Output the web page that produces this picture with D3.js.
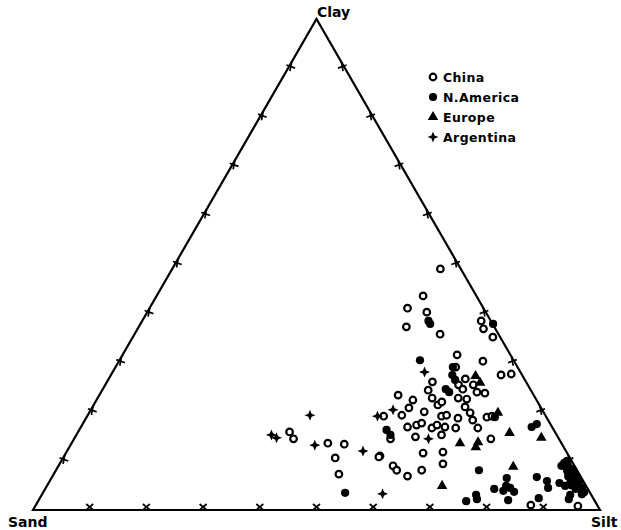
<!DOCTYPE html>
<html>
<head>
<meta charset="utf-8">
<script src="https://cdn.jsdelivr.net/npm/d3@7"></script>
<style>
  body { margin: 0; background: #fff; }
  svg { display: block; }
  text { font-family: "DejaVu Sans", sans-serif; font-weight: bold; fill: #000; }
</style>
</head>
<body>
<svg id="chart" width="621" height="530"></svg>
<script>
// each point: [clay %, silt %]  (sand = 100 - clay - silt)
const china = [
  [49.1, 47.3], [43.6, 47.0], [41.1, 45.5], [40.3, 49.3], [37.3, 47.2],
  [35.8, 53.9], [38.5, 59.8], [36.9, 61.0], [35.2, 63.5], [31.6, 59.0],
  [30.3, 64.2], [27.5, 68.8], [27.7, 70.5], [29.1, 60.0], [26.7, 62.9],
  [26.1, 57.4], [24.4, 57.5], [25.5, 62.3], [24.6, 63.5], [25.5, 64.9],
  [24.0, 66.3], [23.8, 67.8], [23.4, 52.7], [22.4, 55.8], [20.8, 55.9],
  [22.8, 59.0], [21.4, 60.7], [22.0, 61.1], [22.8, 63.6], [22.6, 65.2],
  [21.0, 65.7], [19.3, 55.4], [19.1, 52.3], [20.0, 59.0], [19.1, 62.5],
  [19.3, 63.3], [18.7, 65.6], [19.8, 67.2], [18.3, 68.4], [16.7, 70.1],
  [18.9, 70.6], [19.1, 71.4], [16.9, 57.6], [17.3, 59.0], [17.7, 59.7],
  [16.7, 62.0], [17.3, 62.6], [16.9, 64.2], [16.7, 66.2], [14.5, 55.8],
  [14.9, 60.0], [15.3, 64.4], [14.5, 73.5], [11.8, 66.4], [9.4, 67.6],
  [11.6, 63.0], [8.1, 64.5], [6.9, 62.6], [9.0, 59.0], [8.1, 60.1],
  [11.0, 55.7], [15.9, 37.3], [14.5, 38.7], [13.6, 45.2], [13.4, 48.2],
  [10.6, 48.0], [7.3, 50.3], [10.8, 55.6], [1.0, 87.3], [0.8, 95.7]
];
const nAmerica = [
  [38.5, 50.5], [37.9, 51.1], [37.9, 62.2], [30.5, 53.0], [29.1, 59.5],
  [27.5, 60.2], [26.5, 61.2], [24.6, 60.5], [24.0, 61.4], [18.9, 72.0],
  [16.3, 54.2], [15.3, 55.4], [3.5, 53.3], [8.1, 74.6], [1.8, 75.5],
  [3.1, 76.6], [2.2, 77.2], [4.3, 79.2], [16.9, 79.5], [17.5, 80.1],
  [6.5, 80.3], [4.9, 81.0], [3.9, 81.0], [4.5, 81.9], [3.7, 83.0],
  [2.0, 82.8], [6.7, 85.5], [5.9, 87.7], [4.5, 88.6], [5.5, 90.1],
  [4.9, 91.4], [3.1, 93.2], [2.2, 93.4], [2.4, 88.0],
  [10.0, 89.2], [9.4, 89.6], [8.8, 89.5], [8.2, 91.0], [7.6, 90.6],
  [7.0, 92.2], [6.4, 91.8], [5.8, 93.4], [5.2, 93.0], [4.6, 94.5],
  [4.0, 94.9], [7.3, 91.3], [6.0, 92.5], [8.5, 90.4], [3.6, 95.4],
  [9.0, 88.7], [5.0, 92.5], [9.6, 88.9], [8.0, 90.2], [6.8, 91.0],
  [5.5, 92.0], [4.3, 93.6], [3.2, 95.2], [7.9, 91.4], [6.6, 92.5]
];
const europe = [
  [27.3, 64.4], [25.9, 65.9], [19.8, 72.1], [15.7, 76.2], [14.7, 82.3],
  [13.6, 68.5], [13.8, 71.6], [12.8, 71.7], [4.9, 69.7], [8.8, 80.3]
];
const argentina = [
  [19.3, 39.2], [15.3, 34.4], [14.7, 35.6], [13.2, 43.1], [12.0, 52.2],
  [3.3, 60.0], [19.1, 51.2], [20.4, 53.3], [28.1, 55.0], [14.5, 62.5]
];
const corners = ['Sand', 'Silt', 'Clay'];
const legendNames = ['China', 'N.America', 'Europe', 'Argentina'];
const ticks = [10, 20, 30, 40, 50, 60, 70, 80, 90];

const svg = d3.select('#chart');

// ternary -> screen: x follows silt + clay/2, y follows clay
const x = d3.scaleLinear().domain([0, 100]).range([33, 600]);
const y = d3.scaleLinear().domain([0, 100]).range([510, 19]);
const px = (clay, silt) => [x(silt + clay / 2), y(clay)];

// triangle
const tri = [px(0, 0), px(0, 100), px(100, 0)];
svg.append('path')
  .attr('d', d3.line()(tri) + 'Z')
  .attr('fill', 'none')
  .attr('stroke', '#000')
  .attr('stroke-width', 2.2)
  .attr('stroke-linejoin', 'miter');

// ticks: small x marks sitting on each side, pointing inward
function tickMark(cx, cy, angle) {
  svg.append('g')
    .attr('transform', `translate(${cx},${cy}) rotate(${angle})`)
    .selectAll('line')
    .data([[-3.5, -6, 3.5, 0], [3.5, -6, -3.5, 0]])
    .enter()
    .append('line')
    .attr('x1', (d) => d[0])
    .attr('y1', (d) => d[1])
    .attr('x2', (d) => d[2])
    .attr('y2', (d) => d[3])
    .attr('stroke', '#000')
    .attr('stroke-width', 1.7);
}
ticks.forEach((t) => {
  const b = px(0, t);
  tickMark(b[0], b[1], 0);
  const l = px(t, 0);
  tickMark(l[0], l[1], 60);
  const r = px(t, 100 - t);
  tickMark(r[0], r[1], -60);
});

// corner labels
svg.append('text').attr('x', 8).attr('y', 527).style('font-size', '14px').text(corners[0]);
svg.append('text').attr('x', 591).attr('y', 527).style('font-size', '14px').text(corners[1]);
svg.append('text').attr('x', 317).attr('y', 17).style('font-size', '14px').text(corners[2]);

// markers
const tri4 = d3.symbol().type(d3.symbolTriangle).size(48);
const star = 'M0,-5.5 L1.6,-1.6 L5.5,0 L1.6,1.6 L0,5.5 L-1.6,1.6 L-5.5,0 L-1.6,-1.6 Z';

function drawChina(g, d) {
  g.append('circle').attr('cx', d[0]).attr('cy', d[1]).attr('r', 3.3)
    .attr('fill', '#fff').attr('stroke', '#000').attr('stroke-width', 2.2);
}
function drawNA(g, d) {
  g.append('circle').attr('cx', d[0]).attr('cy', d[1]).attr('r', 4.1).attr('fill', '#000');
}
function drawEU(g, d) {
  g.append('path').attr('d', tri4).attr('transform', `translate(${d[0]},${d[1]})`).attr('fill', '#000');
}
function drawAR(g, d) {
  g.append('path').attr('d', star).attr('transform', `translate(${d[0]},${d[1]})`).attr('fill', '#000');
}

const pts = svg.append('g');
china.forEach((d) => drawChina(pts, px(d[0], d[1])));
nAmerica.forEach((d) => drawNA(pts, px(d[0], d[1])));
europe.forEach((d) => drawEU(pts, px(d[0], d[1])));
argentina.forEach((d) => drawAR(pts, px(d[0], d[1])));

// legend
const legend = svg.append('g');
const drawers = [drawChina, drawNA, drawEU, drawAR];
legendNames.forEach((name, i) => {
  const ly = 77 + i * 20;
  drawers[i](legend, [433, ly]);
  legend.append('text')
    .attr('x', 443)
    .attr('y', ly + 4.5)
    .style('font-size', '12.5px')
    .style('letter-spacing', '0.4px')
    .text(name);
});
</script>
</body>
</html>
